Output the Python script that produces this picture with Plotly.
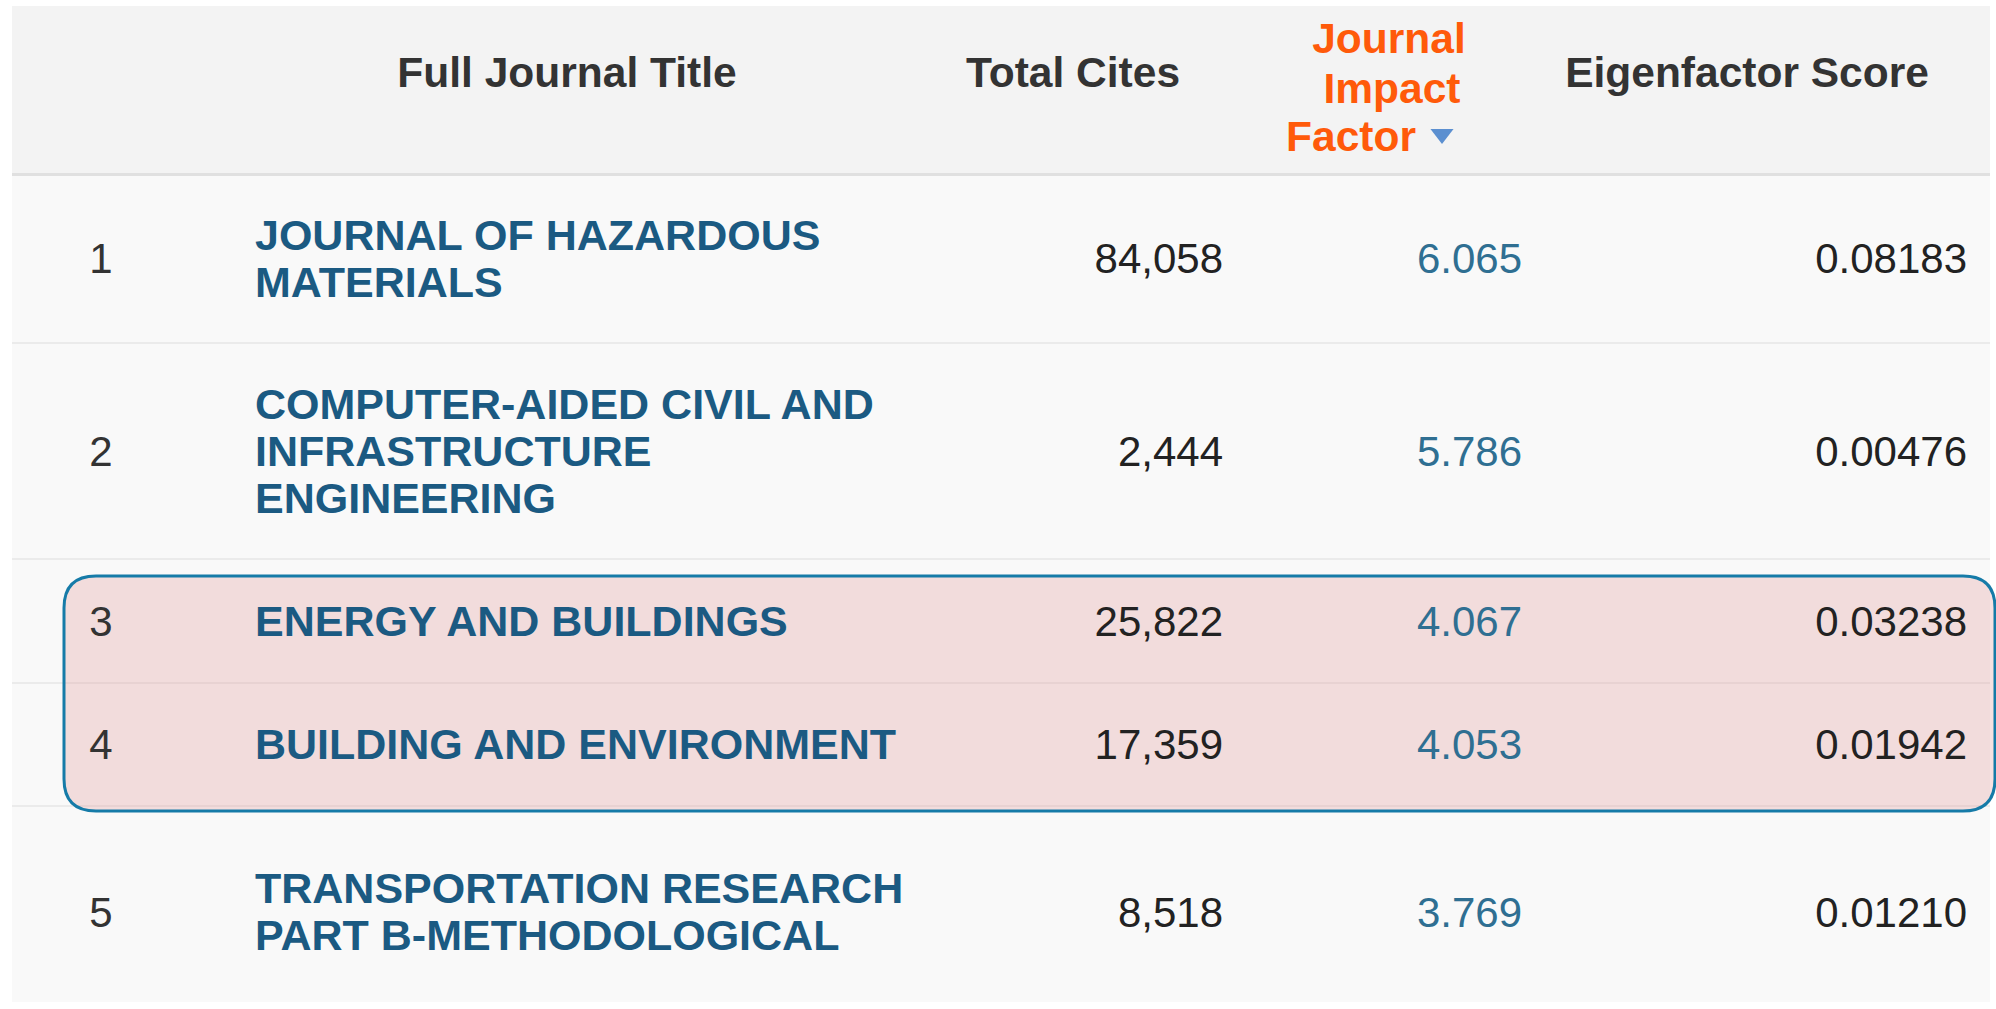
import plotly.graph_objects as go

# ---------------- data ----------------
ranks = [1, 2, 3, 4, 5]
title_lines = [
    ["JOURNAL OF HAZARDOUS", "MATERIALS"],
    ["COMPUTER-AIDED CIVIL AND", "INFRASTRUCTURE", "ENGINEERING"],
    ["ENERGY AND BUILDINGS"],
    ["BUILDING AND ENVIRONMENT"],
    ["TRANSPORTATION RESEARCH", "PART B-METHODOLOGICAL"],
]
total_cites = [84058, 2444, 25822, 17359, 8518]
impact_factor = [6.065, 5.786, 4.067, 4.053, 3.769]
eigenfactor = [0.08183, 0.00476, 0.03238, 0.01942, 0.01210]
header_titles = ["Full Journal Title", "Total Cites", "Eigenfactor Score"]
header_sorted = ["Journal", "Impact", "Factor"]
highlighted_ranks = [3, 4]

# ---------------- layout constants ----------------
W, H = 1996, 1009
FONT = "Liberation Sans, Arial, Helvetica, sans-serif"
FS = 42
FS_TITLE = 43
FS_HEAD = 42.5
LINE_H = 47
DY = 4  # vertical nudge of text baselines
TX0, TX1 = 12, 1990
HEAD_Y0, HEAD_Y1 = 6, 173
row_edges = [174, 343, 559, 683, 806, 1018]
BG_BOTTOM = 1002
X_RANK, X_TITLE, X_CITES, X_IF, X_EIG = 101, 255, 1223, 1522, 1967
header_x = [567, 1073, 1747]
HEADER_Y = 72
sorted_x = [1389, 1392, 1351]
sorted_y = [38, 88, 136]
arrow_xy = (1442, 134)

C_HEAD = "#333333"
C_TITLE = "#1b5a82"
C_NUM = "#222222"
C_IF = "#2f6f92"
C_SORT = "#ff5a0a"

row_centers = [(row_edges[i] + row_edges[i + 1]) / 2 + DY for i in range(len(ranks))]

fig = go.Figure()

# backgrounds
shapes = [
    dict(type="rect", x0=TX0, x1=TX1, y0=HEAD_Y0, y1=HEAD_Y1, fillcolor="#f3f3f3",
         line_width=0, layer="below"),
    dict(type="rect", x0=TX0, x1=TX1, y0=row_edges[0], y1=BG_BOTTOM, fillcolor="#f9f9f9",
         line_width=0, layer="below"),
    dict(type="line", x0=TX0, x1=TX1, y0=HEAD_Y1 + 1.5, y1=HEAD_Y1 + 1.5,
         line=dict(color="#e0e0e0", width=3), layer="below"),
]
for e in row_edges[1:-1]:
    shapes.append(dict(type="line", x0=TX0, x1=TX1, y0=e, y1=e,
                       line=dict(color="#ebebeb", width=2), layer="below"))

# highlight box (rounded) around highlighted rows
hi = [ranks.index(r) for r in highlighted_ranks]
bx0, bx1 = 64, 1995
by0 = row_edges[min(hi)] + 17
by1 = row_edges[max(hi) + 1] + 5
R = 32
path = (f"M{bx0+R},{by0} L{bx1-R},{by0} Q{bx1},{by0} {bx1},{by0+R} "
        f"L{bx1},{by1-R} Q{bx1},{by1} {bx1-R},{by1} L{bx0+R},{by1} "
        f"Q{bx0},{by1} {bx0},{by1-R} L{bx0},{by0+R} Q{bx0},{by0} {bx0+R},{by0} Z")
shapes.append(dict(type="path", path=path, fillcolor="rgba(220,128,128,0.24)",
                   line=dict(color="#167ba8", width=3), layer="below"))

# header texts
fig.add_trace(go.Scatter(
    x=header_x, y=[HEADER_Y + DY] * len(header_x), mode="text", text=header_titles,
    textposition="middle center",
    textfont=dict(family=FONT, size=FS_HEAD, color=C_HEAD, weight="bold"),
    hoverinfo="skip", showlegend=False))
fig.add_trace(go.Scatter(
    x=sorted_x, y=[y + DY for y in sorted_y], mode="text", text=header_sorted,
    textposition="middle center",
    textfont=dict(family=FONT, size=FS_HEAD, color=C_SORT, weight="bold"),
    hoverinfo="skip", showlegend=False))
fig.add_trace(go.Scatter(
    x=[arrow_xy[0]], y=[arrow_xy[1]], mode="markers",
    marker=dict(symbol="triangle-down", size=20, color="#5b8fd0", line_width=0),
    hoverinfo="skip", showlegend=False))

# rank column
fig.add_trace(go.Scatter(
    x=[X_RANK] * len(ranks), y=row_centers, mode="text", text=[str(r) for r in ranks],
    textposition="middle center",
    textfont=dict(family=FONT, size=FS, color=C_HEAD),
    hoverinfo="skip", showlegend=False))

# titles (each line placed around row center)
tx, ty, tt = [], [], []
for lines, c in zip(title_lines, row_centers):
    n = len(lines)
    for i, ln in enumerate(lines):
        tx.append(X_TITLE)
        ty.append(c + (i - (n - 1) / 2) * LINE_H)
        tt.append(ln)
fig.add_trace(go.Scatter(
    x=tx, y=ty, mode="text", text=tt, textposition="middle right",
    textfont=dict(family=FONT, size=FS_TITLE, color=C_TITLE, weight="bold"),
    hoverinfo="skip", showlegend=False))

# numeric columns
fig.add_trace(go.Scatter(
    x=[X_CITES] * len(ranks), y=row_centers, mode="text",
    text=[f"{v:,}" for v in total_cites], textposition="middle left",
    textfont=dict(family=FONT, size=FS, color=C_NUM),
    hoverinfo="skip", showlegend=False))
fig.add_trace(go.Scatter(
    x=[X_IF] * len(ranks), y=row_centers, mode="text",
    text=[f"{v:.3f}" for v in impact_factor], textposition="middle left",
    textfont=dict(family=FONT, size=FS, color=C_IF),
    hoverinfo="skip", showlegend=False))
fig.add_trace(go.Scatter(
    x=[X_EIG] * len(ranks), y=row_centers, mode="text",
    text=[f"{v:.5f}" for v in eigenfactor], textposition="middle left",
    textfont=dict(family=FONT, size=FS, color=C_NUM),
    hoverinfo="skip", showlegend=False))

fig.update_layout(
    width=W, height=H, margin=dict(l=0, r=0, t=0, b=0),
    paper_bgcolor="white", plot_bgcolor="white",
    xaxis=dict(range=[0, W], visible=False, fixedrange=True),
    yaxis=dict(range=[H, 0], visible=False, fixedrange=True),
    shapes=shapes, showlegend=False,
)

fig.write_html(
    "out.html",
    config={"displayModeBar": False},
    post_script="document.body.style.margin='0';document.body.style.overflow='hidden';",
)
